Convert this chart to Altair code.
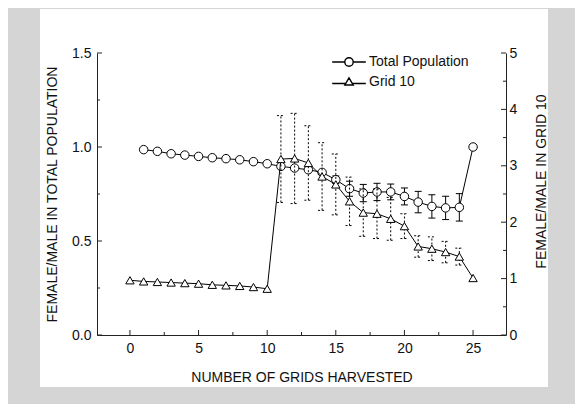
import altair as alt
import pandas as pd

# ---------------- data ----------------
x_total = [1, 2, 3, 4, 5, 6, 7, 8, 9, 10, 11, 12, 13, 14, 15, 16, 17, 18, 19, 20, 21, 22, 23, 24, 25]
total_pop = [0.986, 0.977, 0.964, 0.957, 0.950, 0.943, 0.938, 0.932, 0.922, 0.911,
             0.897, 0.888, 0.879, 0.865, 0.826, 0.778, 0.755, 0.761, 0.761, 0.737,
             0.707, 0.684, 0.676, 0.679, 1.000]
total_err = [0, 0, 0, 0, 0, 0, 0, 0, 0, 0, 0, 0, 0, 0, 0.02, 0.04, 0.046, 0.046, 0.042, 0.045,
             0.057, 0.062, 0.062, 0.073, 0]

x_grid = [0, 1, 2, 3, 4, 5, 6, 7, 8, 9, 10, 11, 12, 13, 14, 15, 16, 17, 18, 19, 20, 21, 22, 23, 24, 25]
grid10 = [0.97, 0.95, 0.94, 0.93, 0.92, 0.91, 0.89, 0.88, 0.87, 0.85, 0.82,
          3.12, 3.13, 3.05, 2.81, 2.67, 2.37, 2.17, 2.15, 2.06, 1.93,
          1.57, 1.53, 1.47, 1.39, 1.01]
grid_err = [0, 0, 0, 0, 0, 0, 0, 0, 0, 0, 0,
            0.77, 0.80, 0.66, 0.60, 0.54, 0.43, 0.42, 0.44, 0.38, 0.22,
            0.19, 0.21, 0.19, 0.15, 0]

series_names = ["Total Population", "Grid 10"]

x_major = [0, 5, 10, 15, 20, 25]
x_minor = [2.5, 7.5, 12.5, 17.5, 22.5]
yl_major = [0, 0.5, 1.0, 1.5]
yl_minor = [0.25, 0.75, 1.25]
yr_major = [0, 1, 2, 3, 4, 5]
yr_minor = [0.5, 1.5, 2.5, 3.5, 4.5]

# ---------------- tables ----------------
df_t = pd.DataFrame({"x": x_total, "y": total_pop, "err": total_err})
df_g = pd.DataFrame({"x": x_grid, "y": grid10, "err": grid_err})
df_leg = pd.DataFrame({"series": series_names, "x": [0, 0], "y": [0, 0]})

W, H = 409, 282
FONT = "Liberation Sans"

xs = alt.Scale(domain=[-2.4, 27.4], nice=False, zero=False)
yl = alt.Scale(domain=[0, 1.5], nice=False)
yr = alt.Scale(domain=[0, 5], nice=False)

axX = alt.Axis(values=x_major, title="NUMBER OF GRIDS HARVESTED", ticks=False, tickSize=0,
               labelPadding=6, titlePadding=15, grid=False, zindex=2)
axL = alt.Axis(values=yl_major, format=".1f", title="FEMALE/MALE IN TOTAL POPULATION",
               orient="left", ticks=False, tickSize=0, labelPadding=6, titlePadding=12,
               grid=False, zindex=2)
axR = alt.Axis(values=yr_major, format="d", title="FEMALE/MALE IN GRID 10", orient="right",
               ticks=False, tickSize=0, labelPadding=3, titlePadding=18, titleAngle=270,
               titleBaseline="top", titleY=128, grid=False, zindex=2)


def X(f="x:Q"):
    return alt.X(f, scale=xs, axis=axX)


def YL(f):
    return alt.Y(f, scale=yl, axis=axL)


def YR(f):
    return alt.Y(f, scale=yr, axis=axR)


# white panel behind the plot
panel = alt.Chart(pd.DataFrame({"a": [0]})).mark_rect(color="white").encode(
    x=alt.value(-57), x2=alt.value(451), y=alt.value(-44), y2=alt.value(334)
)

# inward tick marks
xt_major = alt.Chart(pd.DataFrame({"t": x_major})).mark_rule(color="#222", strokeWidth=1).encode(
    x=X("t:Q"), y=alt.value(H), y2=alt.value(H - 5))
xt_minor = alt.Chart(pd.DataFrame({"t": x_minor})).mark_rule(color="#222", strokeWidth=1).encode(
    x=X("t:Q"), y=alt.value(H), y2=alt.value(H - 3))
ylt_major = alt.Chart(pd.DataFrame({"t": yl_major})).mark_rule(color="#222", strokeWidth=1).encode(
    y=YL("t:Q"), x=alt.value(0), x2=alt.value(5))
ylt_minor = alt.Chart(pd.DataFrame({"t": yl_minor})).mark_rule(color="#222", strokeWidth=1).encode(
    y=YL("t:Q"), x=alt.value(0), x2=alt.value(3))
yrt_major = alt.Chart(pd.DataFrame({"t": yr_major})).mark_rule(color="#222", strokeWidth=1).encode(
    y=YR("t:Q"), x=alt.value(W), x2=alt.value(W - 5))
yrt_minor = alt.Chart(pd.DataFrame({"t": yr_minor})).mark_rule(color="#222", strokeWidth=1).encode(
    y=YR("t:Q"), x=alt.value(W), x2=alt.value(W - 3))

# ---- Total population (left axis) ----
base_t = alt.Chart(df_t)
t_line = base_t.mark_line(color="black", strokeWidth=1).encode(x=X(), y=YL("y:Q"))
t_err_base = base_t.transform_filter("datum.err > 0").transform_calculate(
    lo="datum.y - datum.err", hi="datum.y + datum.err")
t_err = t_err_base.mark_rule(color="black", strokeWidth=1).encode(
    x=X(), y=YL("lo:Q"), y2="hi:Q")
t_cap_lo = t_err_base.mark_rule(color="black", strokeWidth=1, xOffset=-3.5, x2Offset=3.5).encode(
    x=X(), x2="x:Q", y=YL("lo:Q"))
t_cap_hi = t_err_base.mark_rule(color="black", strokeWidth=1, xOffset=-3.5, x2Offset=3.5).encode(
    x=X(), x2="x:Q", y=YL("hi:Q"))
t_pts = base_t.mark_point(shape="circle", size=72, filled=True, fill="white", stroke="black",
                          strokeWidth=1, opacity=1).encode(x=X(), y=YL("y:Q"))

path_c = "M-5.6,0H-1.4M1.4,0H5.6M1.4,0A1.4,1.4,0,1,1,-1.4,0A1.4,1.4,0,1,1,1.4,0"
path_t = "M-5.6,0.5H-1.1M1.1,0.5H5.6M0,-1.4L1.4,1.0L-1.4,1.0Z"

legend_layer = alt.Chart(df_leg).transform_filter("datum.x > 100").mark_point(
    filled=False, color="black", strokeWidth=1, opacity=1
).encode(
    x=X(), y=YL("y:Q"),
    shape=alt.Shape("series:N",
                    scale=alt.Scale(domain=series_names, range=[path_c, path_t]),
                    legend=alt.Legend(title=None, orient="none", legendX=245, legendY=2,
                                      symbolSize=36, labelOffset=13, rowPadding=6, padding=0,
                                      labelFontSize=14, labelFont=FONT, labelColor="#111",
                                      symbolStrokeWidth=1.4, symbolStrokeColor="black",
                                      symbolOpacity=1, zindex=2))
)

left = alt.layer(panel, xt_major, xt_minor, ylt_major, ylt_minor,
                 t_line, t_err, t_cap_lo, t_cap_hi, t_pts, legend_layer)

# ---- Grid 10 (right axis) ----
base_g = alt.Chart(df_g)
g_line = base_g.mark_line(color="black", strokeWidth=1).encode(x=X(), y=YR("y:Q"))
g_err_base = base_g.transform_filter("datum.err > 0").transform_calculate(
    lo="datum.y - datum.err", hi="datum.y + datum.err")
g_err = g_err_base.mark_rule(color="black", strokeWidth=1, strokeDash=[2, 2]).encode(
    x=X(), y=YR("lo:Q"), y2="hi:Q")
g_cap_lo = g_err_base.mark_rule(color="black", strokeWidth=1, strokeDash=[2, 2],
                                xOffset=-4, x2Offset=4).encode(x=X(), x2="x:Q", y=YR("lo:Q"))
g_cap_hi = g_err_base.mark_rule(color="black", strokeWidth=1, strokeDash=[2, 2],
                                xOffset=-4, x2Offset=4).encode(x=X(), x2="x:Q", y=YR("hi:Q"))
g_pts = base_g.mark_point(shape="triangle-up", size=70, filled=True, fill="white", stroke="black",
                          strokeWidth=1, opacity=1).encode(x=X(), y=YR("y:Q"))

right = alt.layer(yrt_major, yrt_minor, g_line, g_err, g_cap_lo, g_cap_hi, g_pts)

chart = alt.layer(left, right).resolve_scale(y="independent").properties(
    width=W, height=H,
    background="#d5d5d5",
    padding={"left": 89, "top": 45, "right": 69, "bottom": 69},
    autosize=alt.AutoSizeParams(type="none"),
).configure_view(stroke=None).configure_axis(
    labelFont=FONT, titleFont=FONT, labelFontSize=14, titleFontSize=14,
    titleFontWeight="normal", labelColor="#111", titleColor="#111",
    domainColor="#222", domainWidth=1,
)

chart.save("out.html", embed_options={"renderer": "svg", "actions": False})
